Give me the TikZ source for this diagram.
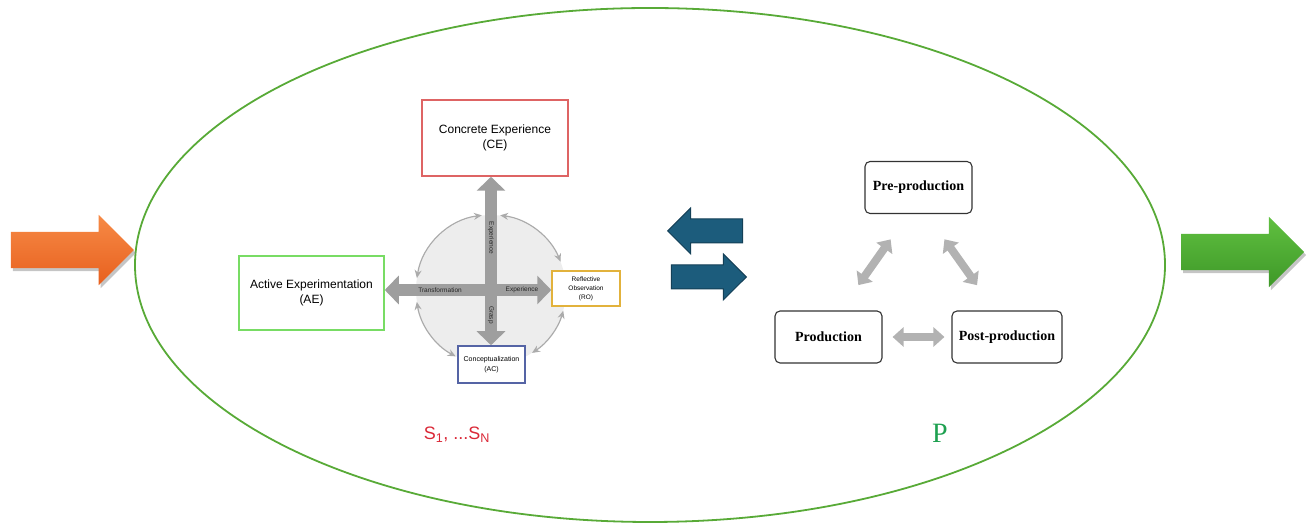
\documentclass[tikz,border=0pt]{standalone}
\usepackage{fontspec}
\setmainfont{Liberation Serif}
\newfontfamily\kolbfont{Liberation Sans}
\usepackage{tikz}
\usetikzlibrary{calc,arrows.meta,shapes.arrows,shapes.geometric,shadows}
\definecolor{cered}{RGB}{222,100,100}
\definecolor{aegreen}{RGB}{120,220,100}
\definecolor{rogold}{RGB}{226,178,60}
\definecolor{acblue}{RGB}{85,100,165}
\definecolor{loopgreen}{RGB}{88,170,55}
\definecolor{swapblue}{RGB}{28,92,124}
\definecolor{sred}{RGB}{218,40,55}
\definecolor{pgreen}{RGB}{30,160,80}
\tikzset{
  kolb box/.style={draw=#1, line width=1.5pt, fill=white, inner sep=0pt, align=center},
  kolb text/.style={font=\kolbfont\fontsize{6.5}{9}\selectfont, text=black!85, inner sep=0pt},
  cross arrow/.style={draw=black!38, line width=12pt,
      {Triangle[length=14pt,width=28pt]}-{Triangle[length=14pt,width=28pt]}},
  round arrow/.style={draw=black!33, line width=1.2pt,
      {Stealth[length=8pt,width=7pt]}-{Stealth[length=8pt,width=7pt]}},
  stage/.style={draw=black!80, line width=1.1pt, rounded corners=5pt, fill=white,
      minimum width=107pt, minimum height=52pt, inner sep=0pt,
      font=\bfseries\fontsize{14}{16}\selectfont},
  stage arrow/.style={draw=black!30, line width=8pt,
      {Triangle[length=11pt,width=19pt]}-{Triangle[length=11pt,width=19pt]},
      shorten <=31pt, shorten >=31pt},
  swap/.style={single arrow, draw=swapblue!70!black, line width=1pt, fill=swapblue,
      minimum height=75pt, inner xsep=0pt, inner ysep=11.5pt, single arrow head extend=11pt},
  big arrow/.style={single arrow, inner xsep=0pt, inner ysep=18pt, minimum height=123pt,
      single arrow head extend=17pt,
      drop shadow={shadow xshift=2pt, shadow yshift=-3pt, fill=black!45}}
}

\begin{document}
\begin{tikzpicture}[x=1pt,y=1pt]
\useasboundingbox (0,0) rectangle (1312,526);
\node[ellipse, draw=loopgreen, line width=1.8pt, minimum width=1030pt, minimum height=514pt,
      inner sep=0pt] (loop) at (650,261) {};
\node[big arrow, anchor=tip, top color={rgb,255:red,246;green,138;blue,70},
      bottom color={rgb,255:red,232;green,96;blue,30}] (inarr) at ([yshift=15]loop.west) {};
\node[big arrow, anchor=tail, top color={rgb,255:red,96;green,192;blue,64},
      bottom color={rgb,255:red,62;green,152;blue,40}] (outarr) at ([xshift=15,yshift=13]loop.east) {};

% experiential learning cycle
\node[circle, fill=black!7, minimum size=150pt, inner sep=0pt] (cyc) at (491,236) {};
\draw[round arrow] (cyc.97) arc[start angle=97, end angle=171, radius=75pt];
\draw[round arrow] (cyc.83) arc[start angle=83, end angle=22, radius=75pt];
\draw[round arrow] (cyc.-16) arc[start angle=-16, end angle=-57, radius=75pt];
\draw[round arrow] (cyc.-118) arc[start angle=-118, end angle=-171, radius=75pt];
\node[kolb box=cered, minimum width=146pt, minimum height=76pt,
      font=\kolbfont\fontsize{12}{15}\selectfont] (CE) at (495,388) {Concrete Experience\\(CE)};
\node[kolb box=aegreen, minimum width=145pt, minimum height=74pt,
      font=\kolbfont\fontsize{12}{15}\selectfont] (AE) at (311.5,233) {Active Experimentation\\(AE)};
\node[kolb box=rogold, minimum width=68pt, minimum height=35pt,
      font=\kolbfont\fontsize{6.5}{9}\selectfont] (RO) at (586,237.5) {Reflective\\Observation\\(RO)};
\node[kolb box=acblue, minimum width=67pt, minimum height=37pt,
      font=\kolbfont\fontsize{7}{10}\selectfont] (AC) at (491.5,161.5) {Conceptualization\\(AC)};
\draw[cross arrow] (cyc.center |- CE.south) -- (cyc.center |- AC.north);
\draw[cross arrow] (AE.east |- cyc.center) -- (RO.west |- cyc.center);
\node[kolb text, rotate=-90] (lexp) at ($(cyc.center)+(0,52)$) {Experience};
\node[kolb text, rotate=-90] (lgrasp) at ($(cyc.center)+(0,-25)$) {Grasp};
\node[kolb text] (ltrans) at ($(cyc.center)+(-51,0)$) {Transformation};
\node[kolb text] (lexp2) at ($(cyc.center)+(31,0)$) {Experience};

\node[swap, shape border rotate=180, anchor=tip] (back) at (667,295) {};
\node[swap, anchor=tip] (fwd) at (747,249) {};

% production stages
\node[stage] (pre) at (918.5,338.5) {Pre-production};
\node[stage] (prod) at (828.5,189) {Production};
\node[stage, minimum width=110pt] (post) at (1007,189) {Post-production};
\draw[stage arrow] ([xshift=12]prod.north) -- ([xshift=-10]pre.south);
\draw[stage arrow] ([xshift=8]pre.south) -- ([xshift=-12]post.north);
\draw[stage arrow, shorten <=10pt, shorten >=7pt] (prod.east) -- (post.west);

\node[text=sred, font=\kolbfont\fontsize{18}{20}\selectfont] (slist) at (457,91)
     {S\textsubscript{1}, ...S\textsubscript{N}};
\node[text=pgreen, font=\fontsize{28}{30}\selectfont] (pset) at (940,93) {P};
\end{tikzpicture}
\end{document}
